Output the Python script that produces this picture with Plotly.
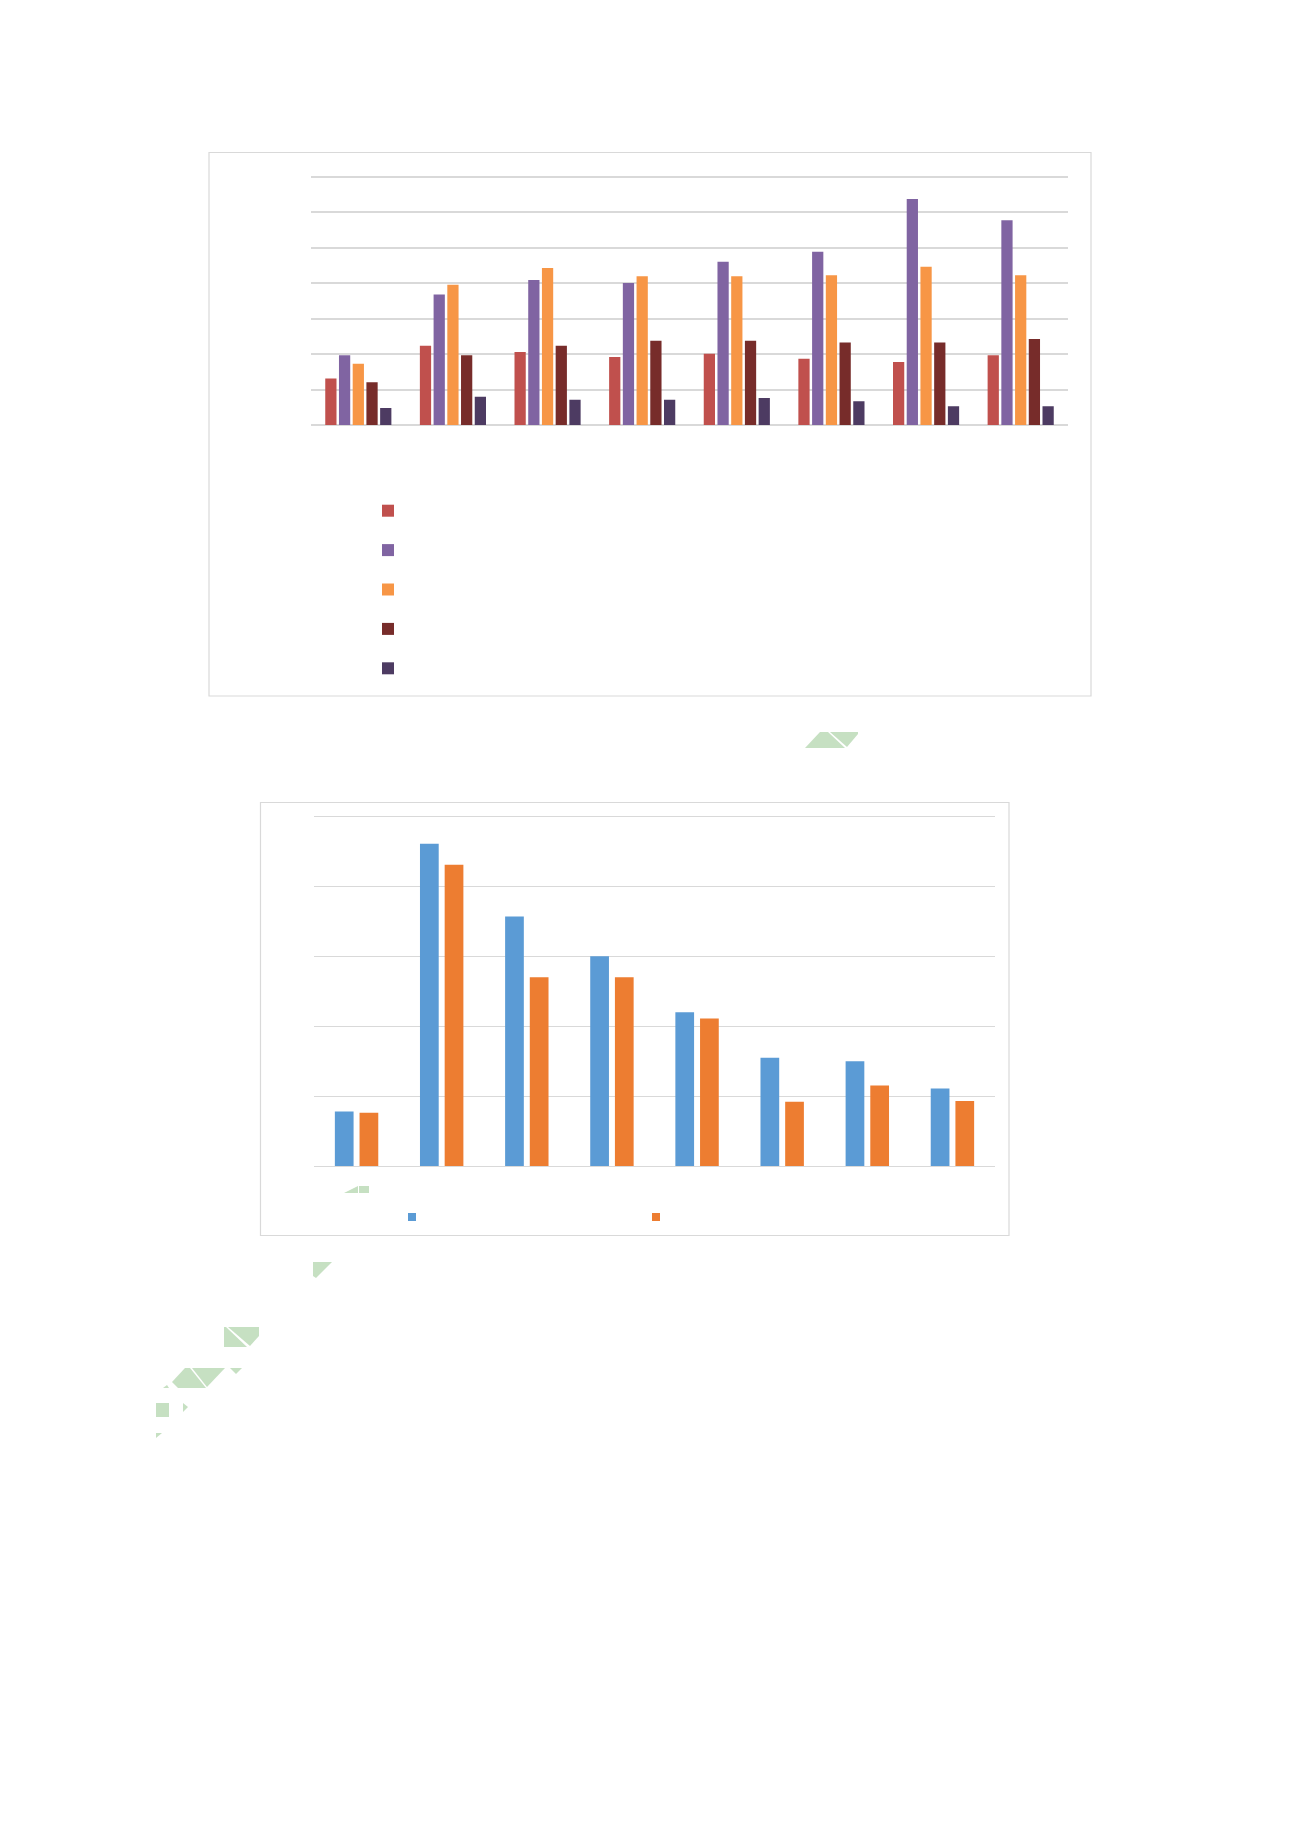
import plotly.graph_objects as go

# ---- Chart 1 data (8 groups x 5 series, units = gridline steps) ----
cats1 = ["G1", "G2", "G3", "G4", "G5", "G6", "G7", "G8"]
s1_red = [1.31, 2.24, 2.06, 1.92, 2.01, 1.87, 1.78, 1.97]
s1_purple = [1.97, 3.68, 4.09, 4.01, 4.61, 4.89, 6.38, 5.78]
s1_orange = [1.73, 3.96, 4.43, 4.20, 4.20, 4.23, 4.47, 4.23]
s1_darkred = [1.21, 1.97, 2.24, 2.38, 2.38, 2.33, 2.33, 2.43]
s1_darkpurple = [0.48, 0.80, 0.71, 0.71, 0.76, 0.67, 0.53, 0.53]
colors1 = ["#C0504D", "#8064A2", "#F79646", "#772C2A", "#4D3B62"]

# ---- Chart 2 data (8 groups x 2 series) ----
cats2 = ["C1", "C2", "C3", "C4", "C5", "C6", "C7", "C8"]
s2_blue = [0.78, 4.61, 3.57, 3.00, 2.20, 1.55, 1.50, 1.11]
s2_orange = [0.76, 4.31, 2.70, 2.70, 2.11, 0.92, 1.15, 0.93]
colors2 = ["#5B9BD5", "#ED7D31"]

W, H = 1301, 1840
OFF = 8  # page body margin

def px(x):
    return (x - OFF) / W

def py(y):
    return 1 - (y - OFF) / H

def ydomain(y_base, y_top, vmax, lo, hi):
    s = (y_base - y_top) / vmax
    return [py(y_base - lo * s), py(y_base - hi * s)]

fig = go.Figure()

series1 = [s1_red, s1_purple, s1_orange, s1_darkred, s1_darkpurple]
for vals, col in zip(series1, colors1):
    fig.add_trace(go.Bar(x=cats1, y=vals, marker_color=col, marker_line_width=0,
                         name=" ", xaxis="x", yaxis="y", legend="legend"))

for i, (vals, col) in enumerate(zip([s2_blue, s2_orange], colors2)):
    fig.add_trace(go.Bar(x=cats2, y=vals, marker_color=col, marker_line_width=0,
                         name=" ", xaxis="x2", yaxis="y2", showlegend=False,
                         width=0.22, offset=-0.255 + i * 0.29))
for col in colors2:
    fig.add_trace(go.Scatter(x=[None], y=[None], mode="markers", xaxis="x2", yaxis="y2",
                             marker=dict(symbol="square", size=8, color=col),
                             name=" ", legend="legend2"))

grid = "#D9D9D9"
axis_common = dict(showticklabels=False, ticks="", showline=False)

R1 = [-0.04, 7.04]
R2 = [-0.02, 5.02]

# light green page fragments (decorative, pixel coordinates)
frags = [
    [(805, 748), (820, 732), (828, 732), (845, 748)],
    [(830, 732), (858, 732), (858, 734), (847, 747)],
    [(344, 1193), (358, 1186), (358, 1193)],
    [(359, 1186), (369, 1186), (369, 1193), (359, 1193)],
    [(313, 1262), (332, 1262), (316, 1278), (313, 1276)],
    [(224, 1327), (226, 1327), (247, 1347), (224, 1347)],
    [(228, 1327), (259, 1327), (259, 1336), (250, 1346)],
    [(172, 1382), (185, 1368), (190, 1368), (206, 1388), (178, 1388)],
    [(192, 1368), (225, 1368), (207, 1387)],
    [(230, 1368), (242, 1368), (236, 1374)],
    [(163, 1388), (167, 1385), (169, 1388)],
    [(156, 1403), (169, 1403), (169, 1417), (156, 1417)],
    [(183, 1403), (188, 1407), (183, 1412)],
    [(156, 1433), (162, 1433), (156, 1438)],
]
shapes = [
    dict(type="rect", xref="paper", yref="paper",
         x0=px(209), x1=px(1091), y0=py(696), y1=py(152.5),
         line=dict(color="#D9D9D9", width=1.2), fillcolor="rgba(0,0,0,0)", layer="below"),
    dict(type="rect", xref="paper", yref="paper",
         x0=px(260.5), x1=px(1009), y0=py(1235.5), y1=py(802.5),
         line=dict(color="#D9D9D9", width=1.2), fillcolor="rgba(0,0,0,0)", layer="below"),
]
for poly in frags:
    path = "M " + " L ".join(f"{px(x):.5f},{py(y):.5f}" for x, y in poly) + " Z"
    shapes.append(dict(type="path", xref="paper", yref="paper", path=path,
                       fillcolor="#C6E0C2", line=dict(width=0), layer="above"))

fig.update_layout(
    width=W, height=H,
    margin=dict(l=0, r=0, t=0, b=0),
    paper_bgcolor="white", plot_bgcolor="white",
    barmode="group",
    bargap=0.275, bargroupgap=0.18,
    xaxis=dict(domain=[px(311), px(1068)], anchor="y", showgrid=False, zeroline=False,
               **axis_common),
    yaxis=dict(domain=ydomain(425, 177, 7, R1[0], R1[1]), anchor="x", range=R1,
               tick0=0, dtick=1, showgrid=True, gridcolor=grid, gridwidth=1.5,
               zeroline=True, zerolinecolor=grid, zerolinewidth=1.5, **axis_common),
    xaxis2=dict(domain=[px(314), px(995)], anchor="y2", showgrid=False, zeroline=False,
                **axis_common),
    yaxis2=dict(domain=ydomain(1166, 816.5, 5, R2[0], R2[1]), anchor="x2", range=R2,
                tick0=0, dtick=1, showgrid=True, gridcolor=grid, gridwidth=1.2,
                zeroline=True, zerolinecolor=grid, zerolinewidth=1.2, **axis_common),
    legend=dict(x=px(368), y=py(486), xanchor="left", yanchor="top",
                orientation="v", font=dict(size=28), bgcolor="rgba(0,0,0,0)"),
    legend2=dict(x=px(392), y=py(1217), xanchor="left", yanchor="middle",
                 orientation="h", entrywidth=199, entrywidthmode="pixels",
                 font=dict(size=12), bgcolor="rgba(0,0,0,0)"),
    showlegend=True,
    shapes=shapes,
)

fig.write_html("out.html")
